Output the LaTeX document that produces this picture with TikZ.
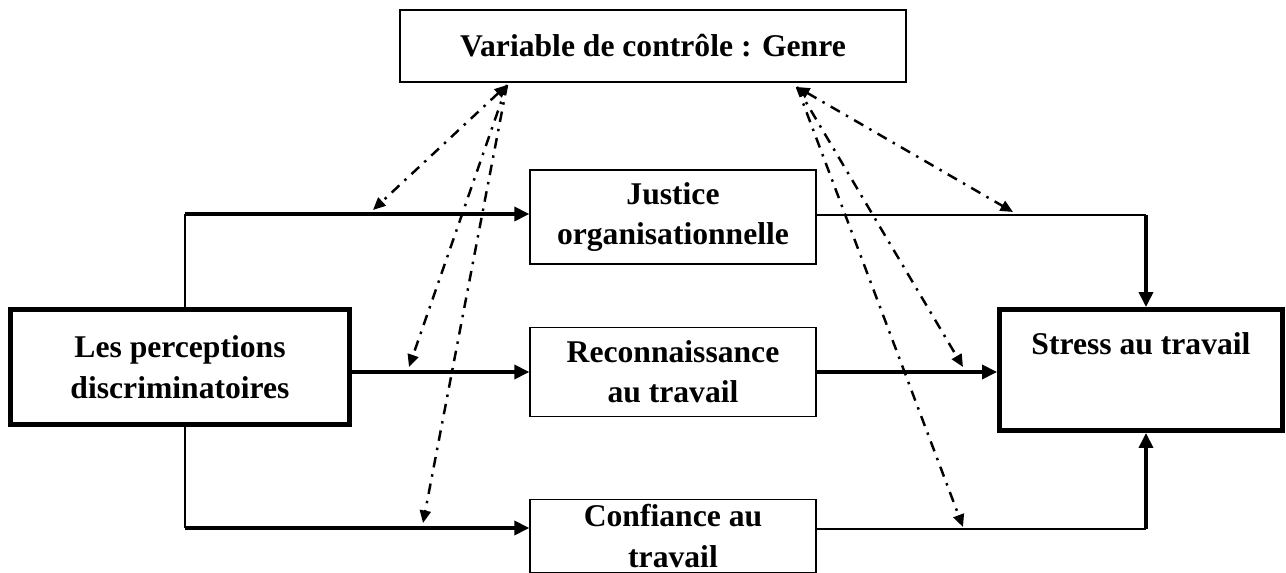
\documentclass[tikz,border=0pt]{standalone}
\usepackage{fontspec}
\setmainfont{Liberation Serif}
\usetikzlibrary{arrows.meta}
\begin{document}
\begin{tikzpicture}[
    x=0.02cm, y=-0.02cm,
    box/.style={rectangle, draw, line width=0.8pt, align=center,
                font=\fontsize{18}{23}\selectfont\bfseries, inner sep=0pt},
    bigbox/.style={box, line width=2.8pt},
    flow/.style={-{Triangle[length=0.3cm, width=0.28cm]}, line width=2pt},
    link/.style={line width=0.9pt},
    ctrl/.style={-{Triangle[length=0.25cm, width=0.22cm]}, line width=1.4pt,
                 dash pattern=on 6pt off 4pt on 1.4pt off 4pt},
    ctrlb/.style={ctrl, {Triangle[length=0.25cm, width=0.22cm]}-{Triangle[length=0.25cm, width=0.22cm]}}
]
\useasboundingbox (0,0) rectangle (1286,573);

\node[box, minimum width=10.12cm, minimum height=1.44cm] (genre) at (653,46) {Variable de contrôle : Genre};
\node[bigbox, minimum width=6.78cm, minimum height=2.3cm] (percep) at (180,367) {Les perceptions\\discriminatoires};
\node[box, minimum width=5.72cm, minimum height=1.88cm] (justice) at (673,217) {Justice\\organisationnelle};
\node[box, minimum width=5.72cm, minimum height=1.78cm] (recon) at (673,372) {Reconnaissance\\au travail};
\node[box, minimum width=5.72cm, minimum height=1.46cm] (confiance) at (673,536) {Confiance au\\travail};
\node[bigbox, minimum width=5.66cm, minimum height=2.42cm] (stress) at (1141,370) {};
\node[font=\fontsize{18}{23}\selectfont\bfseries] (stresstxt) at (1141,344) {Stress au travail};

\coordinate (pu) at (185,214);
\coordinate (pd) at (185,528);
\coordinate (ju) at (1146,215);
\coordinate (cd) at (1146,529);

% main paths
\draw[link] (percep.north -| pu) -- (pu);
\draw[flow] (pu) -- (pu -| justice.west);
\draw[link] (percep.south -| pd) -- (pd);
\draw[flow] (pd) -- (pd -| confiance.west);
\draw[flow] (percep.east |- recon.west) -- (recon.west);
\draw[flow] (recon.east) -- (recon.east -| stress.west);
\draw[link] (justice.east |- ju) -- (ju);
\draw[flow] (ju) -- (ju |- stress.north);
\draw[link] (confiance.east |- cd) -- (cd);
\draw[flow] (cd) -- (cd |- stress.south);

% control variable
\coordinate (gl) at (507,85);
\coordinate (gr) at (797,87);
\coordinate (l1) at (373,210);
\coordinate (l2) at (409,367);
\coordinate (l3) at (423,523);
\coordinate (r1) at (1013,212);
\coordinate (r2) at (963,367);
\coordinate (r3) at (963,527);
\draw[ctrlb] (gl) -- (l1);
\draw[ctrl] (gl) -- (l2);
\draw[ctrl] (gl) -- (l3);
\draw[ctrlb] (gr) -- (r1);
\draw[ctrl] (gr) -- (r2);
\draw[ctrl] (gr) -- (r3);
\end{tikzpicture}
\end{document}
